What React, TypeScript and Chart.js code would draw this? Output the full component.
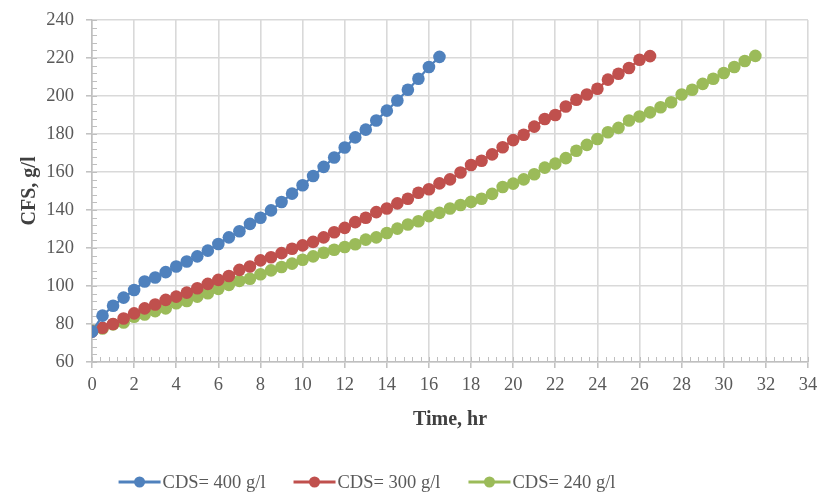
import React, { useEffect, useRef } from "react";
import { Chart, registerables } from "chart.js";

Chart.register(...registerables);

// Time (hr), sampled every half hour
const times = [
  0, 0.5, 1, 1.5, 2, 2.5, 3, 3.5, 4, 4.5, 5, 5.5, 6, 6.5, 7, 7.5,
  8, 8.5, 9, 9.5, 10, 10.5, 11, 11.5, 12, 12.5, 13, 13.5, 14, 14.5, 15, 15.5,
  16, 16.5, 17, 17.5, 18, 18.5, 19, 19.5, 20, 20.5, 21, 21.5, 22, 22.5, 23, 23.5,
  24, 24.5, 25, 25.5, 26, 26.5, 27, 27.5, 28, 28.5, 29, 29.5, 30, 30.5, 31, 31.5,
];

// CFS (g/l) for each CDS
const cds400 = [
  76, 84.4, 89.6, 93.9, 97.9, 102.4, 104.5, 107.3, 110.3, 112.9,
  115.6, 118.6, 122.1, 125.6, 128.8, 132.7, 135.9, 139.8, 144.2, 148.6,
  153.0, 157.9, 162.7, 167.6, 172.9, 178.2, 182.3, 187.1, 192.3, 197.6,
  203.3, 209.1, 215.3, 220.6,
];
const cds300 = [
  76, 78, 80, 82.9, 85.6, 88.2, 90.3, 92.7, 94.4, 96.5,
  98.8, 101.1, 103.2, 105.3, 108.5, 110.3, 113.5, 115.1, 117.3, 119.6,
  121.4, 123.2, 125.6, 128.3, 130.6, 133.6, 135.9, 138.9, 140.8, 143.5,
  145.9, 149.1, 150.9, 154.0, 156.1, 159.7, 163.7, 165.9, 169.3, 173.0,
  176.8, 179.6, 183.9, 187.9, 190.0, 194.5, 198.0, 200.8, 203.8, 208.6,
  211.7, 214.7, 219.1, 221.0,
];
const cds240 = [
  76.4, 77.6, 79.8, 80.8, 83.8, 85.0, 86.8, 88.2, 90.9, 92.1,
  94.4, 96.2, 98.5, 100.6, 102.7, 103.8, 106.2, 108.2, 110.0, 111.8,
  113.8, 115.6, 117.5, 119.1, 120.5, 122.0, 124.4, 125.6, 127.9, 130.2,
  132.4, 134.1, 136.8, 138.5, 140.8, 142.6, 144.3, 145.9, 148.5, 152.1,
  153.9, 156.1, 158.8, 162.3, 164.4, 167.3, 171.2, 174.3, 177.4, 180.9,
  183.2, 187.1, 189.2, 191.4, 194.1, 196.7, 200.8, 203.3, 206.4, 209.1,
  212.1, 215.3, 218.4, 221.1,
];

const seriesLabels = ["CDS= 400 g/l", "CDS= 300 g/l", "CDS= 240 g/l"];
const seriesValues = [cds400, cds300, cds240];
const seriesColors = ["#4F81BD", "#C0504D", "#9BBB59"];

const X_MIN = 0, X_MAX = 34, X_STEP = 2, X_MINOR = 0.4;
const Y_MIN = 60, Y_MAX = 240, Y_STEP = 20, Y_MINOR = 4;

const xTitle = "Time, hr";
const yTitle = "CFS, g/l";

const FONT = "'Liberation Serif', 'Times New Roman', serif";
const AXIS_COLOR = "#bfbfbf";
const GRID_COLOR = "#d9d9d9";
const TICK_TEXT = "#595959";
const TITLE_TEXT = "#404040";

const minorTicksPlugin = {
  id: "minorTicks",
  beforeDatasetsDraw(chart: any) {
    const { ctx, chartArea, scales } = chart;
    const x = scales.x, y = scales.y;
    ctx.save();
    ctx.strokeStyle = AXIS_COLOR;
    ctx.lineWidth = 1;
    const nx = Math.round((X_MAX - X_MIN) / X_MINOR);
    for (let i = 0; i <= nx; i++) {
      const v = X_MIN + i * X_MINOR;
      const px = Math.round(x.getPixelForValue(v)) + 0.5;
      ctx.beginPath();
      ctx.moveTo(px, chartArea.bottom);
      ctx.lineTo(px, chartArea.bottom - 5);
      ctx.stroke();
    }
    const ny = Math.round((Y_MAX - Y_MIN) / Y_MINOR);
    for (let i = 0; i <= ny; i++) {
      const v = Y_MIN + i * Y_MINOR;
      const py = Math.round(y.getPixelForValue(v)) + 0.5;
      ctx.beginPath();
      ctx.moveTo(chartArea.left, py);
      ctx.lineTo(chartArea.left + 5, py);
      ctx.stroke();
    }
    ctx.restore();
  },
};

const LEGEND_CENTER_X = 367;
const LEGEND_Y = 482;
const LEGEND_LINE = 42;
const LEGEND_GAP = 2;
const LEGEND_SPACING = 28;

const legendPlugin = {
  id: "customLegend",
  afterDraw(chart: any) {
    const { ctx } = chart;
    ctx.save();
    ctx.font = `18.5px ${FONT}`;
    ctx.textBaseline = "middle";
    const widths = seriesLabels.map(
      (l) => LEGEND_LINE + LEGEND_GAP + ctx.measureText(l).width
    );
    const total =
      widths.reduce((a, b) => a + b, 0) + LEGEND_SPACING * (widths.length - 1);
    let xPos = LEGEND_CENTER_X - total / 2;
    seriesLabels.forEach((label, i) => {
      const c = seriesColors[i];
      ctx.strokeStyle = c;
      ctx.lineWidth = 3;
      ctx.beginPath();
      ctx.moveTo(xPos, LEGEND_Y);
      ctx.lineTo(xPos + LEGEND_LINE, LEGEND_Y);
      ctx.stroke();
      ctx.fillStyle = c;
      ctx.beginPath();
      ctx.arc(xPos + LEGEND_LINE / 2, LEGEND_Y, 5.5, 0, Math.PI * 2);
      ctx.fill();
      ctx.fillStyle = TICK_TEXT;
      ctx.textAlign = "left";
      ctx.fillText(label, xPos + LEGEND_LINE + LEGEND_GAP, LEGEND_Y + 1);
      xPos += widths[i] + LEGEND_SPACING;
    });
    ctx.restore();
  },
};

export default function App() {
  const canvasRef = useRef<HTMLCanvasElement | null>(null);

  useEffect(() => {
    const canvas = canvasRef.current;
    if (!canvas) return;
    const datasets = seriesLabels.map((label, i) => ({
      label,
      data: seriesValues[i].map((v, j) => ({ x: times[j], y: v })),
      borderColor: seriesColors[i],
      backgroundColor: seriesColors[i],
      borderWidth: 2.25,
      pointRadius: 6.3,
      pointBorderWidth: 0,
      pointBackgroundColor: seriesColors[i],
      showLine: true,
      tension: 0,
    }));

    const chart = new Chart(canvas, {
      type: "scatter",
      data: { datasets },
      plugins: [minorTicksPlugin, legendPlugin],
      options: {
        responsive: false,
        animation: false,
        layout: { padding: { top: 20, right: 10, bottom: 56, left: 0 } },
        plugins: {
          legend: { display: false },
          tooltip: { enabled: false },
        },
        scales: {
          x: {
            type: "linear",
            min: X_MIN,
            max: X_MAX,
            ticks: {
              stepSize: X_STEP,
              color: TICK_TEXT,
              font: { family: FONT, size: 18.5 },
              padding: 6,
              maxRotation: 0,
            },
            grid: {
              color: GRID_COLOR,
              lineWidth: 1.6,
              tickLength: 6,
              tickColor: AXIS_COLOR,
              tickWidth: 1.5,
            },
            border: { color: AXIS_COLOR, width: 1.6 },
            title: {
              display: true,
              text: xTitle,
              color: TITLE_TEXT,
              font: { family: FONT, size: 20, weight: "bold" },
              padding: { top: 0, bottom: 5 },
            },
            afterFit: (s: any) => {
              s.height = 75;
              s.paddingLeft = 0;
              s.paddingRight = 0;
            },
          },
          y: {
            type: "linear",
            min: Y_MIN,
            max: Y_MAX,
            ticks: {
              stepSize: Y_STEP,
              color: TICK_TEXT,
              font: { family: FONT, size: 18.5 },
              padding: 12,
            },
            grid: {
              color: GRID_COLOR,
              lineWidth: 1.6,
              tickLength: 6,
              tickColor: AXIS_COLOR,
              tickWidth: 1.5,
            },
            border: { color: AXIS_COLOR, width: 1.6 },
            title: {
              display: true,
              text: yTitle,
              color: TITLE_TEXT,
              font: { family: FONT, size: 20, weight: "bold" },
              padding: { top: 18, bottom: 0 },
            },
            afterFit: (s: any) => {
              s.width = 92;
              s.paddingTop = 0;
              s.paddingBottom = 0;
            },
          },
        },
      } as any,
    });
    return () => chart.destroy();
  }, []);

  return (
    <div style={{ position: "fixed", left: 0, top: 0, width: 818, height: 493, background: "#fff" }}>
      <canvas ref={canvasRef} width={818} height={493} />
    </div>
  );
}
